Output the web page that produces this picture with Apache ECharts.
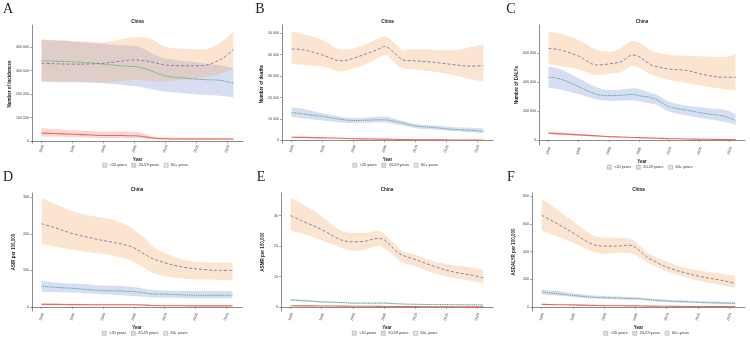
<!DOCTYPE html>
<html>
<head>
<meta charset="utf-8">
<script src="https://cdn.jsdelivr.net/npm/echarts@6/dist/echarts.min.js"></script>
</head>
<body style="margin:0;background:#fff">
<div id="container" style="width:750px;height:337px"></div>
<script>
var years = [1990, 1992, 1995, 1998, 2000, 2002, 2004, 2005, 2007, 2008, 2010, 2013, 2016, 2019, 2021];
var xTicks = [1990, 1995, 2000, 2005, 2010, 2015, 2020];
var groups = ['<20 years', '20-59 years', '60+ years'];

// A - number of incidences
var incTicks = [0, 100000, 200000, 300000, 400000];
var incYoung   = [35000, 33000, 30000, 27000, 25000, 25000, 24000, 24000, 18000, 14000, 11000, 10000, 10000, 10000, 10000];
var incYoungLo = [21000, 19000, 17000, 15000, 14000, 14000, 14000, 14000, 10000, 8000, 7000, 6000, 6000, 6000, 6000];
var incYoungHi = [56000, 52000, 47000, 43000, 42000, 42000, 42000, 41000, 30000, 21000, 17000, 15000, 15000, 14000, 14000];
var incMid   = [341000, 340000, 337000, 332000, 327000, 322000, 318000, 317000, 305000, 296000, 277000, 268000, 262000, 258000, 246000];
var incMidLo = [254000, 252000, 250000, 248000, 246000, 242000, 237000, 235000, 225000, 220000, 211000, 204000, 197000, 192000, 186000];
var incMidHi = [430000, 428000, 423000, 417000, 412000, 408000, 406000, 405000, 385000, 370000, 352000, 340000, 331000, 322000, 310000];
var incOld   = [331000, 329000, 327000, 328000, 331000, 337000, 344000, 345000, 340000, 335000, 324000, 320000, 321000, 348000, 390000];
var incOldLo = [254000, 253000, 252000, 251000, 250000, 253000, 258000, 260000, 258000, 255000, 255000, 262000, 270000, 288000, 310000];
var incOldHi = [430000, 428000, 425000, 422000, 420000, 428000, 438000, 441000, 440000, 432000, 401000, 392000, 390000, 420000, 465000];

// B - number of deaths
var deathTicks = [0, 10000, 20000, 30000, 40000, 50000];
var deathYoung   = [1500, 1400, 1200, 1000, 800, 700, 600, 600, 500, 400, 300, 300, 200, 200, 200];
var deathYoungLo = [1200, 1100, 1000, 800, 600, 500, 500, 500, 400, 300, 200, 200, 100, 100, 100];
var deathYoungHi = [1800, 1700, 1500, 1200, 1000, 900, 800, 800, 700, 600, 500, 400, 300, 300, 300];
var deathMid   = [13000, 12300, 11200, 9800, 9300, 9400, 9600, 9600, 8700, 8100, 6800, 6000, 5200, 4700, 4200];
var deathMidLo = [10900, 10200, 9300, 8400, 8100, 8200, 8400, 8400, 7400, 6900, 5700, 5100, 4400, 3800, 3400];
var deathMidHi = [15500, 14700, 12700, 11000, 10400, 10600, 11100, 11200, 9800, 9000, 7600, 6900, 6300, 5900, 5700];
var deathOld   = [42600, 42200, 39800, 37100, 38300, 40300, 42500, 43800, 39800, 37500, 37100, 36400, 35400, 34600, 34900];
var deathOldLo = [35500, 35200, 34400, 32100, 33600, 35500, 38500, 39800, 35200, 33600, 32900, 32000, 30500, 28500, 27400];
var deathOldHi = [50700, 49500, 46800, 42500, 42900, 44800, 47500, 48400, 44500, 42200, 42500, 42300, 42000, 43500, 44800];

// C - number of DALYs
var dalyTicks = [0, 200000, 400000, 600000];
var dalyYoung   = [46000, 42000, 35000, 28000, 23000, 20000, 17000, 16000, 13000, 12000, 9000, 7000, 5000, 3000, 2000];
var dalyYoungLo = [40000, 36000, 30000, 24000, 20000, 17000, 14000, 13000, 11000, 10000, 7000, 5000, 3000, 2000, 1000];
var dalyYoungHi = [58000, 53000, 43000, 34000, 28000, 24000, 21000, 20000, 16000, 15000, 11000, 9000, 7000, 5000, 4000];
var dalyMid   = [434000, 422000, 369000, 316000, 307000, 309000, 316000, 307000, 293000, 277000, 231000, 205000, 183000, 165000, 134000];
var dalyMidLo = [364000, 350000, 316000, 280000, 272000, 272000, 275000, 268000, 250000, 242000, 196000, 170000, 147000, 128000, 104000];
var dalyMidHi = [508000, 490000, 427000, 365000, 346000, 350000, 358000, 352000, 325000, 311000, 265000, 238000, 222000, 210000, 180000];
var dalyOld   = [634000, 623000, 581000, 519000, 526000, 542000, 588000, 577000, 519000, 507000, 491000, 480000, 450000, 434000, 434000];
var dalyOldLo = [526000, 510000, 489000, 450000, 457000, 470000, 512000, 500000, 455000, 440000, 415000, 395000, 372000, 352000, 341000];
var dalyOldHi = [750000, 735000, 692000, 623000, 611000, 635000, 687000, 674000, 620000, 605000, 588000, 583000, 578000, 575000, 595000];

// D - ASIR per 100,000
var asirTicks = [0, 100, 200, 300];
var asirYoung   = [7, 7, 6.5, 6.3, 6, 6, 6, 6, 5, 4, 3.5, 3.2, 3, 3, 3];
var asirYoungLo = [5, 5, 4.5, 4.3, 4, 4, 4, 4, 3.5, 3, 2.5, 2.2, 2, 2, 2];
var asirYoungHi = [10, 9.5, 9, 8.5, 8, 8, 8, 8, 6.5, 5.5, 5, 4.5, 4.5, 4.5, 4.5];
var asirMid   = [57, 54, 51, 47, 45, 44, 43, 42, 38, 36, 35, 33, 32, 32, 32];
var asirMidLo = [42, 41, 39, 37, 35, 33, 31, 30, 27, 26, 25, 24, 24, 24, 24];
var asirMidHi = [71, 67, 64, 61, 59, 58, 56, 55, 49, 47, 45, 44, 44, 44, 44];
var asirOld   = [228, 218, 201, 189, 182, 176, 168, 162, 142, 133, 121, 109, 103, 100, 100];
var asirOldLo = [173, 166, 157, 149, 145, 139, 130, 124, 103, 94, 85, 78, 75, 74, 74];
var asirOldHi = [298, 283, 262, 250, 244, 237, 222, 212, 185, 166, 148, 130, 123, 121, 121];

// E - ASMR per 100,000
var asmrTicks = [0, 10, 20, 30];
var asmrYoung   = [0.4, 0.38, 0.35, 0.3, 0.27, 0.25, 0.22, 0.2, 0.17, 0.15, 0.12, 0.1, 0.08, 0.06, 0.05];
var asmrYoungLo = [0.3, 0.28, 0.25, 0.2, 0.17, 0.15, 0.12, 0.1, 0.08, 0.07, 0.05, 0.04, 0.03, 0.02, 0.01];
var asmrYoungHi = [0.5, 0.48, 0.45, 0.4, 0.37, 0.35, 0.32, 0.3, 0.26, 0.24, 0.2, 0.17, 0.14, 0.12, 0.1];
var asmrMid   = [2.3, 2.1, 1.7, 1.5, 1.3, 1.3, 1.3, 1.3, 1.1, 1.0, 0.9, 0.8, 0.8, 0.7, 0.7];
var asmrMidLo = [2.0, 1.8, 1.5, 1.3, 1.1, 1.1, 1.1, 1.1, 0.9, 0.85, 0.75, 0.65, 0.6, 0.55, 0.5];
var asmrMidHi = [2.6, 2.4, 2.0, 1.7, 1.5, 1.5, 1.5, 1.5, 1.3, 1.2, 1.1, 1.0, 0.9, 0.9, 0.8];
var asmrOld   = [30, 28.1, 25.4, 22.1, 21.4, 21.6, 22.5, 22.1, 18.3, 17, 15.6, 13.4, 11.6, 10.5, 9.6];
var asmrOldLo = [24.9, 24, 21.8, 19.6, 18.5, 18.8, 20, 19.4, 16.1, 14.5, 13.4, 11.2, 9.6, 8.6, 7.6];
var asmrOldHi = [35.8, 33.6, 29.8, 25.1, 24.3, 24.3, 24.9, 24, 20, 18.3, 17.2, 15, 13.8, 13, 12.3];

// F - ASDALYR per 100,000
var asdalyrTicks = [0, 200, 400, 600, 800];
var asdalyrYoung   = [19, 17, 15, 12, 10, 9, 8, 8, 6, 6, 5, 4, 3, 3, 3];
var asdalyrYoungLo = [15, 14, 12, 10, 8, 7, 6, 6, 5, 4, 3, 2, 1, 1, 1];
var asdalyrYoungHi = [23, 21, 18, 15, 13, 12, 11, 10, 8, 8, 7, 6, 5, 5, 5];
var asdalyrMid   = [108, 99, 84, 71, 67, 65, 62, 62, 54, 50, 43, 38, 32, 29, 26];
var asdalyrMidLo = [91, 84, 72, 61, 58, 56, 53, 52, 45, 42, 36, 30, 25, 21, 19];
var asdalyrMidHi = [127, 117, 99, 84, 79, 76, 72, 71, 61, 57, 53, 47, 41, 38, 36];
var asdalyrOld   = [663, 615, 536, 456, 440, 440, 447, 432, 356, 332, 288, 247, 215, 191, 171];
var asdalyrOldLo = [553, 520, 464, 403, 384, 392, 392, 375, 320, 296, 259, 216, 180, 155, 139];
var asdalyrOldHi = [783, 720, 620, 524, 500, 500, 495, 471, 392, 368, 327, 284, 258, 238, 223];

var lineColors = ['#EE6A5F', '#2F9A62', '#7C78A8'];
var lineTypes = ['solid', 'dotted', [3, 2]];
var bandColors = ['rgba(240,110,100,0.28)', 'rgba(110,135,215,0.28)', 'rgba(243,170,100,0.30)'];

var panels = [
  {letter: 'A', lx: 8, ly: 9, grid: {left: 32, top: 25, width: 211, height: 118}, yName: 'Number of Incidences',
   yMin: -7000, yMax: 493000, ticks: incTicks,
   data: [[incYoung, incYoungLo, incYoungHi], [incMid, incMidLo, incMidHi], [incOld, incOldLo, incOldHi]]},
  {letter: 'B', lx: 260, ly: 9, grid: {left: 282, top: 25, width: 211, height: 118}, yName: 'Number of deaths',
   yMin: -1200, yMax: 53800, ticks: deathTicks,
   data: [[deathYoung, deathYoungLo, deathYoungHi], [deathMid, deathMidLo, deathMidHi], [deathOld, deathOldLo, deathOldHi]]},
  {letter: 'C', lx: 511, ly: 9, grid: {left: 539, top: 25, width: 206, height: 120}, yName: 'Number of DALYs',
   yMin: -35000, yMax: 796000, ticks: dalyTicks,
   data: [[dalyYoung, dalyYoungLo, dalyYoungHi], [dalyMid, dalyMidLo, dalyMidHi], [dalyOld, dalyOldLo, dalyOldHi]]},
  {letter: 'D', lx: 8, ly: 177, grid: {left: 32, top: 193, width: 210, height: 118}, yName: 'ASIR per 100,000',
   yMin: -11, yMax: 312, ticks: asirTicks,
   data: [[asirYoung, asirYoungLo, asirYoungHi], [asirMid, asirMidLo, asirMidHi], [asirOld, asirOldLo, asirOldHi]]},
  {letter: 'E', lx: 261, ly: 177, grid: {left: 281, top: 193, width: 212, height: 118}, yName: 'ASMR per 100,000',
   yMin: -1.3, yMax: 37.4, ticks: asmrTicks,
   data: [[asmrYoung, asmrYoungLo, asmrYoungHi], [asmrMid, asmrMidLo, asmrMidHi], [asmrOld, asmrOldLo, asmrOldHi]]},
  {letter: 'F', lx: 511, ly: 177, grid: {left: 532, top: 193, width: 213, height: 118}, yName: 'ASDALYR per 100,000',
   yMin: -29, yMax: 824, ticks: asdalyrTicks,
   data: [[asdalyrYoung, asdalyrYoungLo, asdalyrYoungHi], [asdalyrMid, asdalyrMidLo, asdalyrMidHi], [asdalyrOld, asdalyrOldLo, asdalyrOldHi]]}
];

// value first, year second: the stack then runs on the y values (see encode below)
function pairs(vals) {
  return years.map(function (y, i) { return [vals[i], y]; });
}
function spaced(v) {
  return String(v).replace(/\B(?=(\d{3})+(?!\d))/g, ' ');
}

var grids = [], xAxes = [], yAxes = [], series = [], legends = [], graphics = [];
var axisColor = '#6f6f6f';
var smooth = 0.35;
var enc = {x: 1, y: 0};

panels.forEach(function (p, i) {
  var g = p.grid;
  grids.push({left: g.left, top: g.top, width: g.width, height: g.height, containLabel: false, outerBoundsMode: 'none'});
  xAxes.push({
    type: 'value', gridIndex: i, min: 1988.45, max: 2022.55,
    name: 'Year', nameLocation: 'middle', nameGap: 13,
    nameTextStyle: {fontSize: 4.5, fontWeight: 'bold', color: '#222'},
    axisLine: {lineStyle: {color: axisColor, width: 0.8}},
    axisTick: {length: 2, lineStyle: {color: axisColor, width: 0.6}, customValues: xTicks},
    axisLabel: {customValues: xTicks, fontSize: 3.6, color: '#444', rotate: 70, align: 'center', verticalAlign: 'middle', margin: 6,
      formatter: function (v) { return String(v); }},
    splitLine: {show: false}
  });
  yAxes.push({
    type: 'value', gridIndex: i, min: p.yMin, max: p.yMax,
    name: p.yName, nameLocation: 'middle', nameGap: 16, nameRotate: 90,
    nameTextStyle: {fontSize: 4.5, fontWeight: 'bold', color: '#222'},
    axisLine: {show: true, lineStyle: {color: axisColor, width: 0.8}},
    axisTick: {show: true, length: 2, lineStyle: {color: axisColor, width: 0.6}, customValues: p.ticks},
    axisLabel: {customValues: p.ticks, fontSize: 3.6, color: '#444', margin: 3, formatter: spaced},
    splitLine: {show: false}
  });

  // ribbons first (60+ drawn over 20-59), then lines
  [1, 2, 0].forEach(function (k) {
    var d = p.data[k];
    var diff = d[2].map(function (v, j) { return v - d[1][j]; });
    var st = 'band' + i + '_' + k;
    series.push({
      name: groups[k], type: 'line', xAxisIndex: i, yAxisIndex: i, stack: st, encode: enc,
      data: pairs(d[1]), symbol: 'none', smooth: smooth, silent: true,
      lineStyle: {opacity: 0}
    });
    series.push({
      name: groups[k], type: 'line', xAxisIndex: i, yAxisIndex: i, stack: st, encode: enc,
      data: pairs(diff), symbol: 'none', smooth: smooth, silent: true,
      lineStyle: {opacity: 0}, areaStyle: {color: bandColors[k], opacity: 1}
    });
  });
  [2, 1, 0].forEach(function (k) {
    series.push({
      name: groups[k], type: 'line', xAxisIndex: i, yAxisIndex: i, encode: enc,
      data: pairs(p.data[k][0]), symbol: 'none', smooth: smooth, z: 5,
      lineStyle: {color: lineColors[k], width: k === 0 ? 1.1 : 0.9, type: lineTypes[k]}
    });
  });

  var cx = g.left + g.width / 2;
  legends.push({
    left: cx - 35, top: g.top + g.height + 20, orient: 'horizontal',
    itemWidth: 4, itemHeight: 4, itemGap: 5, padding: 0,
    textStyle: {fontSize: 3.8, color: '#333', padding: [0, 0, 0, -2]},
    data: groups.map(function (name, k) {
      return {name: name, icon: 'rect', itemStyle: {color: bandColors[k], borderColor: '#9a9a9a', borderWidth: 0.5}};
    })
  });

  graphics.push({
    type: 'text', x: p.lx, y: p.ly,
    style: {text: p.letter, font: '14px "Liberation Serif"', fill: '#222', textAlign: 'center', textVerticalAlign: 'middle'}
  });
  graphics.push({
    type: 'text', x: cx, y: g.top - 3,
    style: {text: 'China', font: 'bold 4.5px "Liberation Sans"', fill: '#222', textAlign: 'center', textVerticalAlign: 'middle'}
  });
});

var myChart = echarts.init(document.getElementById('container'), null, {renderer: 'canvas'});
var option = {
  backgroundColor: '#fff',
  animation: false,
  textStyle: {fontFamily: 'Liberation Sans'},
  grid: grids,
  xAxis: xAxes,
  yAxis: yAxes,
  legend: legends,
  graphic: graphics,
  series: series
};
myChart.setOption(option);
</script>
</body>
</html>
